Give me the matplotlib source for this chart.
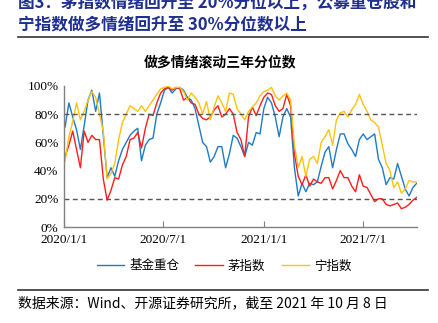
import matplotlib
matplotlib.use('Agg')
import matplotlib.pyplot as plt
from matplotlib.lines import Line2D
import pandas as pd

# weekly readings (Fridays), percentile of the rolling 3-year window, in %
dates = pd.date_range('2020-01-03', periods=93, freq='7D')

fund = [71, 88, 78, 69, 55, 72, 90, 97, 82, 95,
        65, 35, 42, 36, 47, 55, 60, 65, 68, 70,
        47, 58, 62, 63, 80, 88, 97, 99, 95, 98,
        99, 97, 92, 90, 84, 72, 60, 57, 46, 50,
        57, 57, 42, 52, 65, 63, 57, 50, 60, 58,
        67, 66, 84, 92, 88, 78, 64, 78, 84, 78,
        42, 22, 31, 25, 31, 30, 32, 43, 53, 57,
        42, 55, 66, 66, 59, 55, 50, 62, 66, 62,
        64, 66, 48, 42, 30, 35, 34, 45, 36, 27,
        22, 28, 31]

mao = [50, 58, 68, 55, 42, 68, 60, 65, 62, 62,
       34, 19, 26, 35, 34, 44, 50, 62, 63, 67,
       56, 70, 80, 79, 88, 95, 98, 99, 97, 99,
       98, 90, 92, 88, 87, 80, 77, 76, 78, 83,
       86, 78, 80, 84, 80, 67, 62, 50, 78, 85,
       79, 86, 92, 95, 94, 86, 82, 84, 94, 86,
       52, 36, 30, 37, 29, 34, 32, 31, 35, 35,
       27, 33, 40, 35, 35, 29, 25, 37, 29, 28,
       23, 18, 20, 20, 16, 15, 16, 17, 13, 14,
       16, 19, 21]

ning = [47, 64, 75, 88, 76, 82, 90, 96, 92, 80,
        68, 34, 38, 45, 62, 74, 80, 86, 84, 82,
        86, 82, 86, 90, 94, 98, 99, 100, 98, 99,
        99, 96, 90, 95, 92, 88, 80, 89, 76, 85,
        93, 88, 82, 95, 94, 84, 80, 76, 82, 85,
        88, 93, 96, 97, 99, 93, 90, 93, 95, 90,
        58, 42, 50, 36, 48, 50, 45, 60, 64, 69,
        58, 76, 81, 82, 78, 83, 87, 94, 87, 82,
        76, 74, 71, 58, 45, 40, 28, 32, 24, 27,
        33, 32, 32]

names = ['基金重仓', '茅指数', '宁指数']
colors = ['#1f7bc4', '#ff1c1c', '#ffc20e']
tick_dates = ['2020-01-01', '2020-07-01', '2021-01-01', '2021-07-01']
tick_labels = ['2020/1/1', '2020/7/1', '2021/1/1', '2021/7/1']

cjk = ['Noto Sans CJK SC', 'DejaVu Sans']
serif = ['Liberation Serif', 'DejaVu Serif']

fig = plt.figure(figsize=(4.39, 3.23), dpi=100)
ax = fig.add_axes([64/439, 1-227/323, (416.7-64)/439, (227-86)/323])

for s, n, c in zip([fund, mao, ning], names, colors):
    ax.plot(dates, [v/100 for v in s], color=c, lw=1.0, label=n)

ax.axhline(0.8, color='#555555', lw=1.0, ls=(0, (3.5, 2.5)))
ax.axhline(0.2, color='#555555', lw=1.0, ls=(0, (3.5, 2.5)))

ax.set_xlim(pd.Timestamp('2020-01-01'), pd.Timestamp('2021-10-08'))
ax.set_ylim(0, 1)
ax.set_yticks([0, 0.2, 0.4, 0.6, 0.8, 1.0])
ax.set_yticklabels(['0%', '20%', '40%', '60%', '80%', '100%'], family=serif, fontsize=9.5)
ax.set_xticks([pd.Timestamp(d) for d in tick_dates])
ax.set_xticklabels(tick_labels, family=serif, fontsize=9.5)
ax.tick_params(axis='x', direction='in', length=4, color='#808080', pad=5)
ax.tick_params(axis='y', direction='in', length=0, pad=4)
for sp in ['top', 'right']:
    ax.spines[sp].set_visible(False)
for sp in ['left', 'bottom']:
    ax.spines[sp].set_color('#808080')
    ax.spines[sp].set_linewidth(1.0)

fig.text(220/439, 1-62/323, '做多情绪滚动三年分位数', ha='center', va='center',
         family=cjk, fontsize=10, fontweight='bold')

fig.legend(loc='center', bbox_to_anchor=(224/439, 1-266/323), ncol=3, frameon=False,
           prop={'family': cjk, 'size': 9}, handlelength=2.2, columnspacing=1.3,
           handletextpad=0.4)

navy = '#1f2f8f'
fig.text(18/439, 1-3/323, '图3：茅指数情绪回升至 20%分位以上，公募重仓股和', ha='left',
         va='center', family=cjk, fontsize=12, fontweight='bold', color=navy)
fig.text(18/439, 1-24/323, '宁指数做多情绪回升至 30%分位数以上', ha='left',
         va='center', family=cjk, fontsize=12, fontweight='bold', color=navy)
fig.add_artist(Line2D([18/439, 428/439], [1-37/323, 1-37/323], color='#333333', lw=1.2))
fig.add_artist(Line2D([18/439, 428/439], [1-290/323, 1-290/323], color='#333333', lw=1.2))
fig.text(18/439, 1-303/323, '数据来源：Wind、开源证券研究所，截至 2021 年 10 月 8 日',
         ha='left', va='center', family=cjk, fontsize=10)

fig.savefig('out.png', dpi=100)
